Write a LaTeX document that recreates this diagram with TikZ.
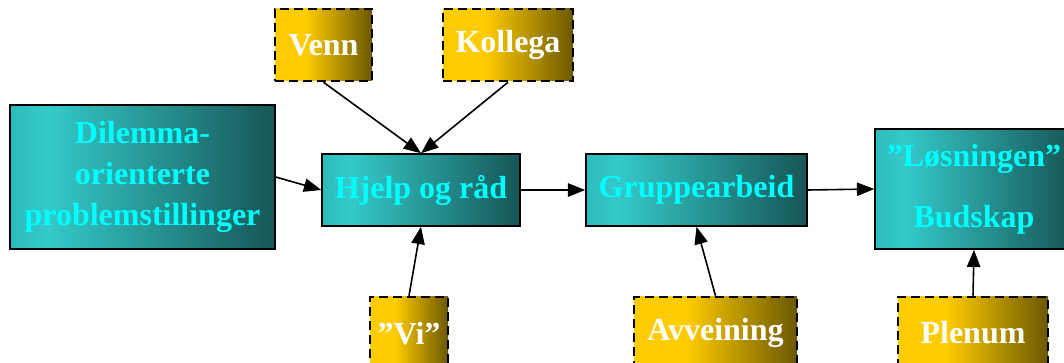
\documentclass[tikz,border=0pt]{standalone}
\usepackage{fontspec}
\setmainfont{Liberation Serif}
\usetikzlibrary{arrows.meta}

\definecolor{tealL}{HTML}{35CACA}
\definecolor{tealE}{HTML}{2EBABA}
\definecolor{tealD}{HTML}{175555}
\definecolor{goldL}{HTML}{FFCC00}
\definecolor{goldD}{HTML}{6B5800}
\definecolor{cyantxt}{HTML}{00FFFF}

% left-to-right fills; the path spans 25bp..75bp of each shading
\pgfdeclarehorizontalshading{tealfill}{100bp}{color(0bp)=(tealE); color(25bp)=(tealE); color(32bp)=(tealL); color(75bp)=(tealD); color(100bp)=(tealD)}
\pgfdeclarehorizontalshading{goldfill}{100bp}{color(0bp)=(goldL); color(25bp)=(goldL); color(41bp)=(goldL); color(75bp)=(goldD); color(100bp)=(goldD)}

\tikzset{
  mainbox/.style={draw=black, line width=1.1pt, shading=tealfill, rectangle,
    text=cyantxt, font=\fontsize{24}{31}\selectfont\bfseries, align=center,
    inner sep=0pt},
  helpbox/.style={draw=black, line width=1.9pt, dash pattern=on 6.5pt off 4pt,
    shading=goldfill, rectangle, text=white,
    font=\fontsize{24}{31}\selectfont\bfseries, align=center, inner sep=0pt},
  link/.style={line width=1.2pt, -{Triangle[length=13pt,width=10pt]}}
}

\begin{document}
\begin{tikzpicture}[x=0.75pt, y=-0.75pt]
  \useasboundingbox (0,0) rectangle (1064,363);
  \clip (0,0) rectangle (1064,363);

  % main flow
  \node[mainbox, minimum width=198.75pt, minimum height=108pt] (dil) at (142.5,177)
    {Dilemma-\\orienterte\\problemstillinger};
  \node[mainbox, minimum width=148.5pt, minimum height=54pt] (hjelp) at (421,190)
    {Hjelp og råd};
  \node[mainbox, minimum width=165.75pt, minimum height=54pt] (grp) at (696.5,190)
    {Gruppearbeid};
  \node[mainbox, minimum width=148.5pt, minimum height=90pt] (los) at (974,189)
    {”Løsningen”\\[15pt]Budskap};

  % supporting sources
  \node[helpbox, minimum width=72.75pt, minimum height=54pt] (venn) at (323.5,45) {Venn};
  \node[helpbox, minimum width=97.5pt, minimum height=54pt] (koll) at (508,45) {Kollega};
  \node[helpbox, minimum width=58.5pt, minimum height=54pt, text depth=0pt] (vi) at (409,333) {”Vi”};
  \node[helpbox, minimum width=122.25pt, minimum height=54pt] (avv) at (715.5,333) {Avveining};
  \node[helpbox, minimum width=112.5pt, minimum height=54pt] (plen) at (973,333) {Plenum};

  % connectors
  \draw[link] (venn.south) -- (hjelp.north);
  \draw[link] (koll.south) -- (hjelp.north);
  \draw[link] (dil.east) -- (hjelp.west);
  \draw[link] (hjelp.east) -- (grp.west);
  \draw[link] (grp.east) -- (los.west);
  \draw[link] (vi.north) -- (hjelp.south);
  \draw[link] (avv.north) -- (grp.south);
  \draw[link] (plen.north) -- (los.south);
\end{tikzpicture}
\end{document}
